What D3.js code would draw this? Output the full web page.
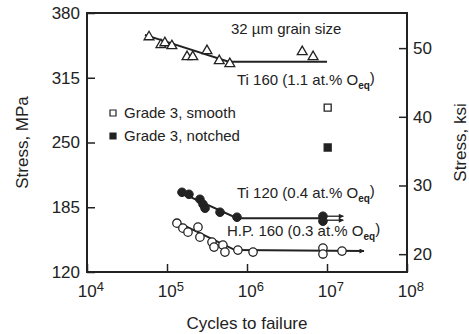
<!DOCTYPE html>
<html>
<head>
<meta charset="utf-8">
<script src="https://cdn.jsdelivr.net/npm/d3@7/dist/d3.min.js"></script>
<style>
  html, body { margin: 0; padding: 0; background: #fff; }
  svg { display: block; }
  text { font-family: "Liberation Sans", Arial, Helvetica, sans-serif; fill: #222; }
</style>
</head>
<body>
<svg id="chart" width="469" height="334"></svg>
<script>
// ---------------- data ----------------
const xTicks = [1e4, 1e5, 1e6, 1e7, 1e8];
const yTicksMPa = [120, 185, 250, 315, 380];
const yTicksKsi = [20, 30, 40, 50];
const MPA_PER_KSI = 6.895;

// Ti 160 (1.1 at.% Oeq), 32 µm grain size - open triangles
const ti160Cycles = [5.96e4, 8.4e4, 9.4e4, 1.15e5, 1.78e5, 2.1e5, 3.16e5, 4.5e5, 6.1e5, 4.9e6, 6.7e6];
const ti160Stress = [356, 348, 350, 347, 336, 336, 342, 332, 329, 341, 336];
const ti160FitCycles = [5.3e4, 5.9e5, 1.0e7];
const ti160FitStress = [358, 331, 331];

// Grade 3 reference points
const grade3SmoothCycles = [1.02e7];
const grade3SmoothStress = [285];
const grade3NotchedCycles = [1.02e7];
const grade3NotchedStress = [245];

// Ti 120 (0.4 at.% Oeq) - filled circles
const ti120Cycles = [1.54e5, 1.88e5, 2.58e5, 2.82e5, 2.99e5, 4.6e5, 7.5e5, 8.9e6, 8.9e6];
const ti120Stress = [200, 198, 193, 188, 184, 180, 175, 176, 171];
const ti120FitCycles = [1.37e5, 7.5e5, 8.9e6];
const ti120FitStress = [201, 174, 174];
const ti120RunoutStart = [1.0e7, 1.0e7];
const ti120RunoutEnd = [1.6e7, 1.6e7];
const ti120RunoutStress = [176, 172];

// H.P. 160 (0.3 at.% Oeq) - open circles
const hp160Cycles = [1.33e5, 1.58e5, 1.83e5, 2.44e5, 2.58e5, 3.65e5, 3.87e5, 5.0e5, 5.3e5, 7.7e5, 1.19e6, 8.9e6, 8.9e6, 1.54e7];
const hp160Stress = [169, 164, 160, 165, 155, 150, 145, 147, 140, 142, 140, 144, 138, 141];
const hp160FitCycles = [1.26e5, 7.1e5, 2.9e7];
const hp160FitStress = [171, 142, 141];

// ---------------- layout ----------------
const svg = d3.select("#chart");
const L = 87, R = 407, T = 13, B = 272;
const x = d3.scaleLog().domain([1e4, 1e8]).range([L, R]);
const y = d3.scaleLinear().domain([120, 380]).range([B, T]);
const yK = d3.scaleLinear().domain([120 / MPA_PER_KSI, 380 / MPA_PER_KSI]).range([B, T]);
const ink = "#222";
const FS = 17;

// defs: arrowhead
const defs = svg.append("defs");
defs.append("marker").attr("id", "arr").attr("viewBox", "0 0 10 10")
  .attr("refX", 9).attr("refY", 5).attr("markerWidth", 7).attr("markerHeight", 5)
  .attr("markerUnits", "userSpaceOnUse").attr("orient", "auto")
  .append("path").attr("d", "M0,0 L10,5 L0,10 z").attr("fill", ink);

// ---------------- axes ----------------
const gx = svg.append("g").attr("transform", `translate(0,${B})`)
  .call(d3.axisBottom(x).tickValues(xTicks).tickSize(-8).tickPadding(13).tickFormat(() => ""));
gx.selectAll(".tick text").each(function (d) {
  const t = d3.select(this);
  t.attr("font-size", FS).attr("fill", ink).attr("dx", "0.2em");
  t.append("tspan").text("10");
  t.append("tspan").attr("dy", "-0.45em").attr("font-size", 13).text(Math.round(Math.log10(d)));
});
const gy = svg.append("g").attr("transform", `translate(${L},0)`)
  .call(d3.axisLeft(y).tickValues(yTicksMPa).tickSize(-8).tickPadding(7).tickFormat(d3.format("d")));
gy.selectAll(".tick text").attr("font-size", FS).attr("fill", ink);
const gr = svg.append("g").attr("transform", `translate(${R},0)`)
  .call(d3.axisRight(yK).tickValues(yTicksKsi).tickSize(-8).tickPadding(6).tickFormat(d3.format("d")));
gr.selectAll(".tick text").attr("font-size", FS).attr("fill", ink);
[gx, gy, gr].forEach(g => {
  g.selectAll(".domain").remove();
  g.selectAll(".tick line").attr("stroke", ink).attr("stroke-width", 1.5);
  g.selectAll("text").style("font-family", '"Liberation Sans", Arial, sans-serif');
});
// frame
svg.append("rect").attr("x", L).attr("y", T).attr("width", R - L).attr("height", B - T)
  .attr("fill", "none").attr("stroke", ink).attr("stroke-width", 2);

// axis titles
svg.append("text").attr("transform", `translate(28,${(T + B) / 2}) rotate(-90)`)
  .attr("text-anchor", "middle").attr("font-size", FS).text("Stress, MPa");
svg.append("text").attr("transform", `translate(466,${(T + B) / 2}) rotate(-90)`)
  .attr("text-anchor", "middle").attr("font-size", FS).text("Stress, ksi");
svg.append("text").attr("x", (L + R) / 2).attr("y", 329)
  .attr("text-anchor", "middle").attr("font-size", FS).text("Cycles to failure");

// ---------------- lines ----------------
const line = d3.line().x(d => x(d[0])).y(d => y(d[1]));
function fit(cs, ss, arrow) {
  const p = svg.append("path").datum(d3.zip(cs, ss)).attr("d", line)
    .attr("fill", "none").attr("stroke", ink).attr("stroke-width", 2);
  if (arrow) p.attr("marker-end", "url(#arr)");
}
fit(ti160FitCycles, ti160FitStress, false);
fit(ti120FitCycles, ti120FitStress, false);
fit(hp160FitCycles, hp160FitStress, true);
ti120RunoutStress.forEach((s, i) => {
  svg.append("path").datum([[ti120RunoutStart[i], s], [ti120RunoutEnd[i], s]]).attr("d", line)
    .attr("fill", "none").attr("stroke", ink).attr("stroke-width", 1.3).attr("marker-end", "url(#arr)");
});

// ---------------- markers ----------------
const tri = d3.symbol().type(d3.symbolTriangle).size(42);
svg.append("g").selectAll("path").data(d3.zip(ti160Cycles, ti160Stress)).join("path")
  .attr("d", tri).attr("transform", d => `translate(${x(d[0])},${y(d[1])})`)
  .attr("fill", "#fff").attr("stroke", ink).attr("stroke-width", 1.3);

const sq = d3.symbol().type(d3.symbolSquare).size(49);
svg.append("g").selectAll("path").data(d3.zip(grade3SmoothCycles, grade3SmoothStress)).join("path")
  .attr("d", sq).attr("transform", d => `translate(${x(d[0])},${y(d[1])})`)
  .attr("fill", "#fff").attr("stroke", ink).attr("stroke-width", 1.3);
svg.append("g").selectAll("path").data(d3.zip(grade3NotchedCycles, grade3NotchedStress)).join("path")
  .attr("d", sq).attr("transform", d => `translate(${x(d[0])},${y(d[1])})`)
  .attr("fill", ink).attr("stroke", ink).attr("stroke-width", 1.3);

svg.append("g").selectAll("circle").data(d3.zip(ti120Cycles, ti120Stress)).join("circle")
  .attr("cx", d => x(d[0])).attr("cy", d => y(d[1])).attr("r", 4.3)
  .attr("fill", ink).attr("stroke", ink);
svg.append("g").selectAll("circle").data(d3.zip(hp160Cycles, hp160Stress)).join("circle")
  .attr("cx", d => x(d[0])).attr("cy", d => y(d[1])).attr("r", 4.2)
  .attr("fill", "#fff").attr("stroke", ink).attr("stroke-width", 1.3);

// ---------------- annotations ----------------
const AF = 15;
function label(xp, yp, main, sub, tail) {
  const t = svg.append("text").attr("x", xp).attr("y", yp).attr("font-size", AF);
  t.append("tspan").text(main);
  if (sub) {
    t.append("tspan").attr("dy", "0.35em").attr("font-size", 10).attr("font-weight", "bold").text(sub);
    t.append("tspan").attr("dy", "-0.35em").attr("font-size", AF).text(tail);
  }
}
label(231, 34, "32 \u00B5m grain size");
label(237, 85, "Ti 160 (1.1 at.% O", "eq", ")");
label(237, 198, "Ti 120 (0.4 at.% O", "eq", ")");
label(227, 236, "H.P. 160 (0.3 at.% O", "eq", ")");

// legend
const legSq = d3.symbol().type(d3.symbolSquare).size(36);
svg.append("path").attr("d", legSq).attr("transform", "translate(113,113)")
  .attr("fill", "#fff").attr("stroke", ink).attr("stroke-width", 1.2);
svg.append("path").attr("d", legSq).attr("transform", "translate(113,136)")
  .attr("fill", ink).attr("stroke", ink).attr("stroke-width", 1.2);
label(124, 118, "Grade 3, smooth");
label(124, 141, "Grade 3, notched");
</script>
</body>
</html>
